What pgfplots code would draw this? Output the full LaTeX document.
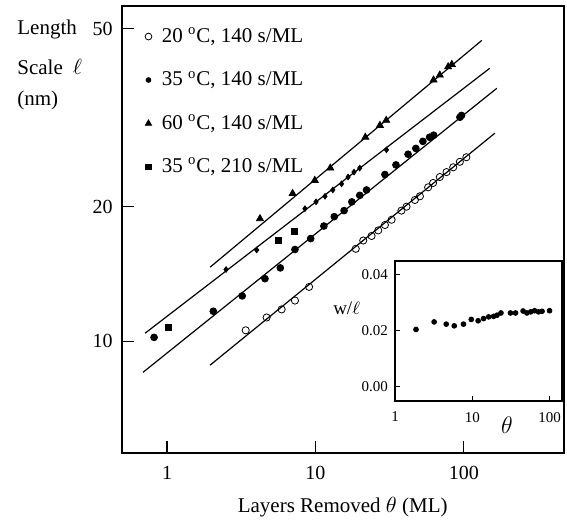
\documentclass[border=0pt]{standalone}
\usepackage{fontspec}
\setmainfont{Liberation Serif}
\usepackage{pgfplots}
\pgfplotsset{compat=1.18}
\begin{document}
\begin{tikzpicture}
\useasboundingbox (0,0) rectangle (283.5pt,260pt);
\node[anchor=west, inner sep=0pt, font=\fontsize{10.5}{12.6}\selectfont] at (8.5pt,245.3pt) {Length};
\node[anchor=west, inner sep=0pt, font=\fontsize{10.5}{12.6}\selectfont] at (8.5pt,226.6pt) {Scale\hspace{5pt}$\ell$};
\node[anchor=west, inner sep=0pt, font=\fontsize{10.5}{12.6}\selectfont] at (8.5pt,210pt) {(nm)};
\begin{axis}[
  at={(60.85pt,33.5pt)}, anchor=south west, scale only axis,
  width=221pt, height=223.5pt,
  xmode=log, ymode=log,
  xmin=0.495, xmax=471, ymin=5.623, ymax=56.23,
  xtick={1,10,100}, xticklabels={1,10,100},
  ytick={10,20,50}, yticklabels={10,20,50},
  /pgf/number format/assume math mode=true,
  tick align=inside, major tick length=6pt, minor tick length=0pt,
  xtick pos=bottom, ytick pos=left,
  axis line style={line width=1pt},
  tick style={line width=0.6pt, black},
  ticklabel style={font=\fontsize{10}{12}\selectfont},
  xticklabel style={yshift=-3pt},
  yticklabel style={xshift=-1pt},
  xlabel={Layers Removed $\theta$ (ML)},
  every axis x label/.style={at={(axis description cs:0.5,0)}, anchor=center, yshift=-27pt, font=\fontsize{10.5}{12.6}\selectfont},
  legend style={at={(axis description cs:0.052,0.957)}, anchor=north west, draw=none, fill=none,
    font=\fontsize{10.5}{12.6}\selectfont, row sep=10.8pt, column sep=4pt, inner sep=0pt, nodes={inner sep=1pt}},
  legend cell align=left,
  legend image code/.code={\draw[#1] plot coordinates {(0pt,0pt)};},
]
\addlegendimage{only marks, mark=o, mark size=1.7pt, black, thin}
\addlegendentry{20 \textsuperscript{o}C, 140 s/ML}
\addlegendimage{only marks, mark=*, mark size=1.2pt, black}
\addlegendentry{35 \textsuperscript{o}C, 140 s/ML}
\addlegendimage{only marks, mark=triangle*, mark size=1.8pt, black}
\addlegendentry{60 \textsuperscript{o}C, 140 s/ML}
\addlegendimage{only marks, mark=square*, mark size=1.3pt, black}
\addlegendentry{35 \textsuperscript{o}C, 210 s/ML}
% fitted lines
\addplot[black, line width=0.6pt, forget plot] coordinates {(1.95,8.84) (161.8,29.2)};
\addplot[black, line width=0.6pt, forget plot] coordinates {(0.689,8.52) (166.8,36.8)};
\addplot[black, line width=0.6pt, forget plot] coordinates {(0.711,10.42) (149.6,40.8)};
\addplot[black, line width=0.6pt, forget plot] coordinates {(1.95,14.64) (132.2,47.1)};
% 20 C open circles
\addplot[only marks, mark=o, mark size=1.8pt, black, thin, forget plot] coordinates {
(3.39,10.58) (4.69,11.30) (5.92,11.78) (7.28,12.33) (9.06,13.23)
(18.7,16.1) (21.0,16.8) (23.9,17.2) (26.5,17.7) (29.4,18.2) (32.6,18.7)
(38.0,19.6) (41.1,20.0) (46.8,20.7) (50.6,21.1) (57.5,22.1) (62.1,22.6)
(68.9,23.3) (76.5,23.9) (84.8,24.5) (94,25.2) (104,25.8)};
% 35 C filled circles
\addplot[only marks, mark=*, mark size=1.7pt, black, forget plot] coordinates {
(0.818,10.2) (2.05,11.67) (3.21,12.63) (4.57,13.8) (5.80,14.59) (7.28,16.04)
(9.29,16.97) (11.4,18.1) (13.4,19.0) (15.6,19.6) (17.6,20.5) (19.9,21.2)
(22.1,21.8) (29.4,23.6) (34.9,24.8) (42.1,26.2) (47.5,27.0) (53.0,28.0)
(58.8,28.6) (62.6,28.9) (94.1,31.7) (96.5,32.0)};
% 60 C triangles
\addplot[only marks, mark=triangle*, mark size=2pt, black, forget plot] coordinates {
(4.23,18.8) (7.02,21.4) (9.9,22.9) (12.6,24.4) (21.7,28.6) (27.2,30.4)
(30.0,31.2) (62.5,38.4) (68.9,39.4) (78.4,41.1) (83.0,41.6)};
% small points on third line
\addplot[only marks, mark=diamond*, mark size=1.4pt, black, forget plot] coordinates {
(2.50,14.47) (4.02,16.0) (8.5,19.8) (10.1,20.5) (11.6,21.1) (13.1,21.8)
(15.0,22.5) (16.6,23.3) (18.2,23.9) (19.9,24.4) (30.1,26.8)};
% squares
\addplot[only marks, mark=square*, mark size=1.5pt, black, forget plot] coordinates {
(1.02,10.76) (5.63,16.83) (7.2,17.65)};
\end{axis}
\begin{axis}[
  at={(197.5pt,59.5pt)}, anchor=south west, scale only axis,
  width=83.5pt, height=70pt,
  xmode=log, xmin=1, xmax=145, ymin=-0.0051, ymax=0.045,
  axis background/.style={fill=white},
  xtick={1,10,100}, xticklabels={1,10,100},
  ytick={0,0.02,0.04}, yticklabels={0.00,0.02,0.04},
  scaled y ticks=false,
  /pgf/number format/assume math mode=true,
  tick align=inside, major tick length=2.5pt, minor tick length=0pt,
  xtick pos=bottom, ytick pos=left,
  axis line style={line width=1pt},
  tick style={line width=0.5pt, black},
  ticklabel style={font=\fontsize{7.5}{9}\selectfont},
  xticklabel style={yshift=-2pt},
  xlabel={$\theta$}, ylabel={w/$\ell$},
  every axis x label/.style={at={(axis description cs:0.67,-0.17)}, anchor=center, font=\fontsize{12}{14}\selectfont},
  every axis y label/.style={at={(axis description cs:-0.29,0.66)}, anchor=center, font=\fontsize{9.5}{11}\selectfont},
]
\addplot[only marks, mark=*, mark size=1.2pt, black] coordinates {
(1.87,0.0205) (3.21,0.0232) (4.6,0.0224) (5.84,0.0218) (7.7,0.0224) (9.7,0.0241)
(11.9,0.0236) (14.0,0.0244) (16.3,0.0250) (18.9,0.0252) (20.9,0.0256) (23.5,0.0264)
(31.2,0.0264) (36.3,0.0264) (45.5,0.0271) (51,0.0264) (57,0.0268) (64,0.0272)
(72,0.0268) (80,0.0270) (100,0.0272)};
\end{axis}
\end{tikzpicture}
\end{document}
